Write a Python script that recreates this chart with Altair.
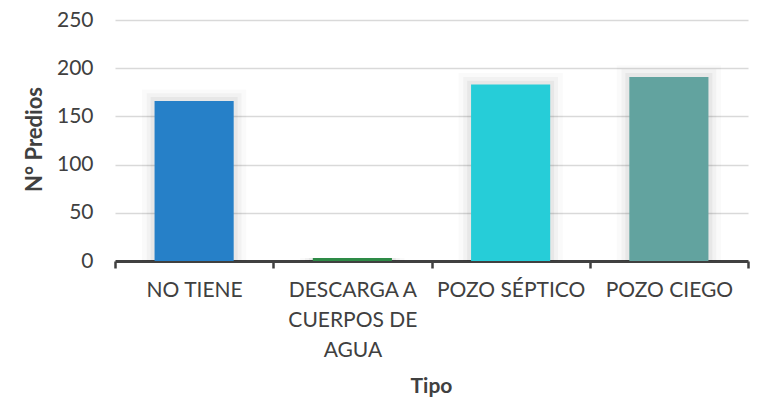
import altair as alt
import pandas as pd

categorias = ["NO TIENE", "DESCARGA A CUERPOS DE AGUA", "POZO SÉPTICO", "POZO CIEGO"]
predios = [166, 3, 183, 191]
colores = ["#2680C8", "#2E8B47", "#26CDD8", "#62A39F"]

df = pd.DataFrame({"Tipo": categorias, "Predios": predios, "color": colores})

font = "Lato"
x_enc = alt.X(
    "Tipo:N",
    sort=categorias,
    scale=alt.Scale(paddingInner=0, paddingOuter=0),
    axis=alt.Axis(
        title="Tipo",
        labelAngle=0,
        labelExpr="datum.value == 'DESCARGA A CUERPOS DE AGUA' ? ['DESCARGA A', 'CUERPOS DE', 'AGUA'] : datum.value",
        labelFont=font, labelFontSize=21, labelColor="#404040",
        labelLineHeight=30, labelPadding=11, labelBaseline="top",
        tickBand="extent", tickSize=7, tickWidth=2.5, tickColor="#404040",
        domainColor="#404040", domainWidth=3,
        titleFont=font, titleFontSize=21, titleFontWeight="bold", titleColor="#404040",
        titleX=316, titleY=125, titleBaseline="middle",
    ),
)

y_axis = alt.Axis(
    title="N° Predios",
    values=[0, 50, 100, 150, 200, 250],
    labelFont=font, labelFontSize=21, labelColor="#404040", labelPadding=22,
    domain=False, ticks=False,
    gridColor="#D9D9D9", gridWidth=1.5,
    titleFont=font, titleFontSize=22, titleFontWeight="bold", titleColor="#404040",
    titleX=-81, titleY=119, titleBaseline="middle", titleAngle=-90,
)
y_scale = alt.Scale(domain=[0, 250], nice=False)

base = alt.Chart(df)

shadows = []
for rel, extra, op in [(0.66, 12, 0.02), (0.60, 8, 0.03), (0.55, 4, 0.045)]:
    shadows.append(
        base.transform_calculate(top=f"datum.Predios > 10 ? datum.Predios + {extra} : datum.Predios")
        .mark_bar(color="#000000", opacity=op, width=alt.RelativeBandSize(rel))
        .encode(x=x_enc, y=alt.Y("top:Q", scale=y_scale, axis=y_axis), y2=alt.datum(0))
    )

bars = base.mark_bar(width=alt.RelativeBandSize(0.5)).encode(
    x=x_enc,
    y=alt.Y("Predios:Q", scale=y_scale, axis=y_axis),
    color=alt.Color("color:N", scale=None),
)

chart = alt.layer(*shadows, bars).properties(
    width=633, height=241,
    autosize=alt.AutoSizeParams(type="none"),
    padding={"left": 107, "top": 12, "right": 10, "bottom": 142},
    background="white",
).configure_view(stroke=None)

chart.save("out.html", embed_options={"renderer": "svg", "actions": False})
